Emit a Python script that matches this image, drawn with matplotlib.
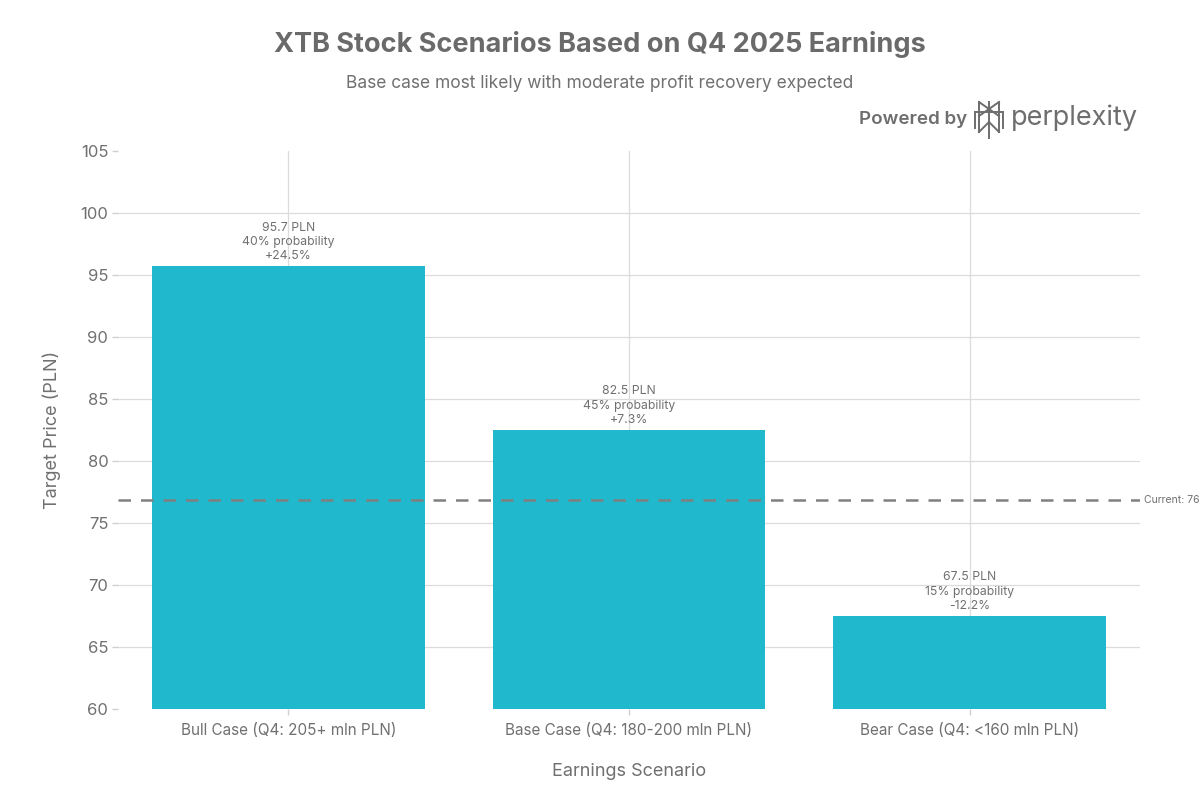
import matplotlib
matplotlib.use("Agg")
import matplotlib.pyplot as plt

categories = ["Bull Case (Q4: 205+ mln PLN)", "Base Case (Q4: 180-200 mln PLN)", "Bear Case (Q4: <160 mln PLN)"]
prices = [95.7, 82.5, 67.5]
probabilities = [40, 45, 15]
changes = ["+24.5%", "+7.3%", "-12.2%"]
current_price = 76.87
current_label = "Current: 76.9 PLN"
y_ticks = [60, 65, 70, 75, 80, 85, 90, 95, 100, 105]

plt.rcParams['font.family'] = ['Inter', 'DejaVu Sans']

fig = plt.figure(figsize=(12, 8), dpi=100)
ax = fig.add_axes([118/1200, 1 - 709/800, (1140-118)/1200, (709-151)/800])

bar_color = "#1FB8CD"
text_gray = "#707070"

x = list(range(len(categories)))
ax.bar(x, [p - 60 for p in prices], bottom=60, width=0.8, color=bar_color, zorder=2)
ax.set_xlim(-0.5, len(categories) - 0.5)
ax.set_ylim(60, 105)
ax.set_yticks(y_ticks)
ax.set_xticks(x)
ax.set_xticklabels(categories)

for xi, p, pr, ch in zip(x, prices, probabilities, changes):
    ax.annotate(f"{p} PLN\n{pr}% probability\n{ch}", (xi, p), xytext=(0, 3),
                textcoords="offset points", ha="center", va="bottom",
                fontsize=8.8, color=text_gray, linespacing=1.25, zorder=4)

ax.axhline(current_price, color="#808080", linestyle=(0, (5, 4)), linewidth=1.8, zorder=3)
ax.text(2.512, current_price, current_label, ha="left", va="center", fontsize=7.5,
        color=text_gray, clip_on=False)

for s in ax.spines.values():
    s.set_visible(False)
ax.grid(True, color="#dcdcdc", linewidth=0.9, zorder=0)
ax.set_axisbelow(True)
ygl = ax.get_ygridlines()
ygl[-1].set_visible(False)
ygl[0].set_visible(False)
ax.tick_params(axis="both", colors="#d0d0d0", length=4, width=1, labelcolor=text_gray)
ax.tick_params(axis="y", labelsize=12, pad=3)
ax.tick_params(axis="x", labelsize=11, pad=6)

ax.set_ylabel("Target Price (PLN)", fontsize=13, color=text_gray, labelpad=14)
ax.set_xlabel("Earnings Scenario", fontsize=13, color=text_gray, labelpad=18)

fig.text(0.5, 1 - 45/800, "XTB Stock Scenarios Based on Q4 2025 Earnings", ha="center", va="center",
         fontsize=19.5, fontweight="bold", color="#6a6a6a")
fig.text(0.5, 1 - 84/800, "Base case most likely with moderate profit recovery expected", ha="center",
         va="center", fontsize=12.5, color="#707070")

# Powered by perplexity logo
fig.text(967/1200, 1 - 120/800, "Powered by", ha="right", va="center", fontsize=13.5,
         fontweight="semibold", color="#6e6e6e")
fig.text(1138/1200, 1 - 118/800, "perplexity", ha="right", va="center", fontsize=19.5, color="#6e6e6e")
lx, ly = 989, 120
def L(x0, y0, x1, y1):
    fig.add_artist(plt.Line2D([x0/1200, x1/1200], [1 - y0/800, 1 - y1/800], color="#6e6e6e", linewidth=1.4))
L(lx, ly - 18, lx, ly + 18)
L(lx - 10, ly - 18, lx + 10, ly - 4)
L(lx + 10, ly - 18, lx - 10, ly - 4)
L(lx - 10, ly - 18, lx - 10, ly - 4)
L(lx + 10, ly - 18, lx + 10, ly - 4)
L(lx - 14, ly - 8, lx + 14, ly - 8)
L(lx - 14, ly - 8, lx - 14, ly + 8)
L(lx + 14, ly - 8, lx + 14, ly + 8)
L(lx - 10, ly - 4, lx - 10, ly + 12)
L(lx + 10, ly - 4, lx + 10, ly + 12)
L(lx - 10, ly + 12, lx, ly + 2)
L(lx + 10, ly + 12, lx, ly + 2)

fig.savefig("out.png", dpi=100)
